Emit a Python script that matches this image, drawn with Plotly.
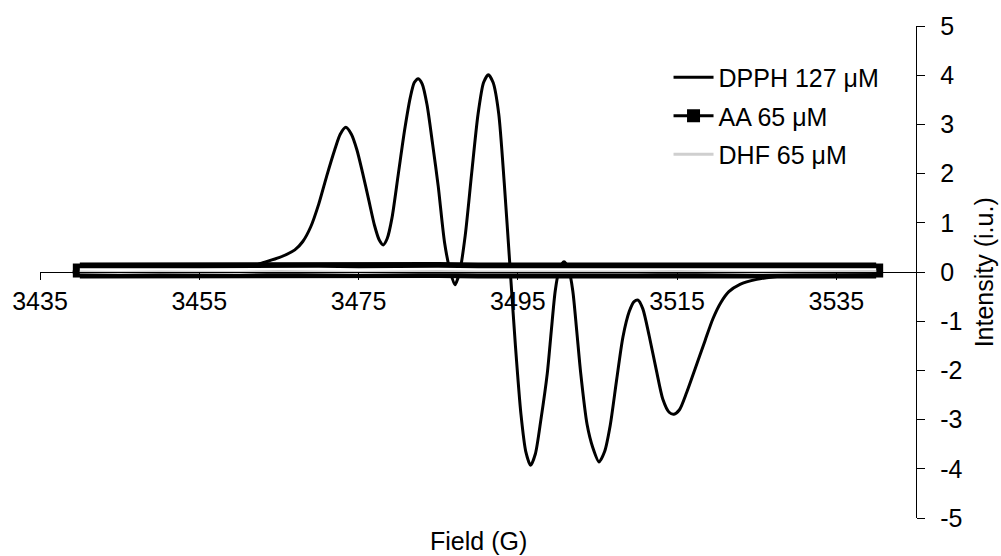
import plotly.graph_objects as go

# ---- data ----
dpph_field = [3439.1, 3448.9, 3455.2, 3459.0, 3461.5, 3463.0, 3465.0, 3467.0, 3468.0, 3469.0,
              3470.0, 3471.0, 3472.0, 3472.7, 3473.4, 3474.1, 3474.8, 3475.5, 3476.3, 3477.0,
              3477.6, 3478.1, 3478.6, 3479.2, 3480.0, 3480.8, 3481.5, 3482.0, 3482.5, 3483.0,
              3483.6, 3484.3, 3485.0, 3485.8, 3486.5, 3487.1, 3487.7, 3488.4, 3489.2, 3490.0,
              3490.7, 3491.3, 3491.9, 3492.6, 3493.3, 3494.0, 3494.7, 3495.4, 3496.0, 3496.6,
              3497.2, 3497.9, 3498.7, 3499.2, 3499.7, 3500.2, 3500.8, 3501.4, 3501.9, 3502.4,
              3502.9, 3503.7, 3504.4, 3505.2, 3505.9, 3506.6, 3507.4, 3508.2, 3509.0, 3509.6,
              3510.1, 3510.7, 3511.5, 3512.4, 3513.2, 3514.0, 3514.6, 3515.3, 3516.2, 3517.3,
              3518.5, 3519.5, 3520.5, 3521.5, 3522.9, 3525.0, 3527.0, 3530.5, 3535.5, 3540.6]
dpph_intensity = [0.0, 0.0, 0.01, 0.05, 0.11, 0.19, 0.29, 0.45, 0.62, 0.92,
                  1.38, 1.95, 2.48, 2.8, 2.94, 2.8, 2.48, 2.02, 1.45, 0.95,
                  0.65, 0.55, 0.68, 1.1, 2.0, 2.9, 3.55, 3.85, 3.93, 3.82,
                  3.4, 2.6, 1.75, 0.6, 0.02, -0.26, 0.0, 0.75, 2.0, 3.2,
                  3.85, 4.01, 3.85, 3.22, 1.8, 0.15, -1.5, -2.9, -3.65, -3.93,
                  -3.7, -3.0, -2.06, -1.2, -0.38, 0.05, 0.21, 0.05, -0.38, -1.2,
                  -2.06, -3.1, -3.56, -3.86, -3.65, -3.12, -2.2, -1.32, -0.8, -0.6,
                  -0.57, -0.75, -1.3, -2.0, -2.58, -2.85, -2.89, -2.8, -2.45, -1.95,
                  -1.4, -0.95, -0.62, -0.4, -0.25, -0.15, -0.1, -0.05, -0.02, 0.0]

aa_field = [3440, 3445, 3450, 3455, 3460, 3465, 3470, 3475, 3480, 3485, 3490,
            3495, 3500, 3505, 3510, 3515, 3520, 3525, 3530, 3535, 3540]
aa_intensity = [0.03, 0.04, 0.03, 0.03, 0.04, 0.03, 0.04, 0.03, 0.04, 0.04, 0.03,
                0.03, 0.04, 0.03, 0.04, 0.03, 0.04, 0.03, 0.03, 0.04, 0.03]

dhf_field = [3440, 3445, 3450, 3455, 3460, 3465, 3470, 3475, 3480, 3485, 3490,
             3495, 3500, 3505, 3510, 3515, 3520, 3525, 3530, 3535, 3540]
dhf_intensity = [0.0, -0.01, 0.0, 0.0, -0.01, 0.01, 0.0, -0.01, 0.0, 0.01, 0.0,
                 0.0, -0.01, 0.0, 0.0, 0.01, 0.0, -0.01, 0.0, 0.0, 0.01]

x_tick_values = [3435, 3455, 3475, 3495, 3515, 3535]
y_tick_values = [-5, -4, -3, -2, -1, 0, 1, 2, 3, 4, 5]
y_tick_labels = ["-5", "-4", "-3", "-2", "-1", "0", "1", "2", "3", "4", "5"]

FONT = "Liberation Sans, Arial, sans-serif"

fig = go.Figure()
fig.add_trace(go.Scatter(
    x=dpph_field, y=dpph_intensity, mode="lines", name="DPPH 127 μM",
    line=dict(color="black", width=3, shape="spline", smoothing=0.7),
    legendgroup="dpph", legendrank=1))
# AA: square markers forming a thick band (black border, white fill)
fig.add_trace(go.Scatter(
    x=aa_field, y=aa_intensity, mode="lines+markers", showlegend=False,
    line=dict(color="black", width=16),
    marker=dict(symbol="square", size=14, color="black"),
    legendgroup="aa", hoverinfo="skip"))
fig.add_trace(go.Scatter(
    x=aa_field, y=aa_intensity, mode="lines", showlegend=False,
    line=dict(color="white", width=4.5), legendgroup="aa", hoverinfo="skip"))
fig.add_trace(go.Scatter(
    x=dhf_field, y=dhf_intensity, mode="lines", name="DHF 65 μM",
    line=dict(color="#cfcfcf", width=3), legendgroup="dhf", legendrank=3))
fig.add_trace(go.Scatter(
    x=[None], y=[None], mode="lines+markers", name="AA 65 μM",
    line=dict(color="black", width=3),
    marker=dict(symbol="square", size=13, color="black"),
    legendgroup="aa", legendrank=2))

fig.update_layout(
    width=1001, height=556,
    margin=dict(l=39, r=85, t=24, b=38),
    plot_bgcolor="white", paper_bgcolor="white",
    font=dict(family=FONT, size=25, color="black"),
    xaxis=dict(range=[3435, 3545], tickvals=x_tick_values, ticks="outside", ticklen=7,
               tickcolor="black", tickwidth=1.3, showline=True, linecolor="black",
               linewidth=1.3, showgrid=False, zeroline=False, anchor="free", position=0.5),
    yaxis=dict(range=[-5, 5], tickvals=y_tick_values, ticktext=y_tick_labels, side="right",
               ticks="outside", ticklen=8, tickcolor="black", tickwidth=1.3, showline=True,
               linecolor="black", linewidth=1.3, showgrid=False, zeroline=False,
               ticklabelstandoff=10),
    legend=dict(x=0.7175, y=0.942, xanchor="left", yanchor="top", bgcolor="rgba(0,0,0,0)",
                font=dict(family=FONT, size=25, color="black"), traceorder="grouped",
                tracegroupgap=3, itemwidth=40),
    annotations=[
        dict(text="Field (G)", x=0.5, y=-0.047, xref="paper", yref="paper",
             showarrow=False, xanchor="center", yanchor="middle",
             font=dict(family=FONT, size=25, color="black")),
        dict(text="Intensity (i.u.)", x=1.078, y=0.5, xref="paper", yref="paper",
             showarrow=False, textangle=-90, xanchor="center", yanchor="middle",
             font=dict(family=FONT, size=25, color="black")),
    ],
)

fig.write_html("out.html")
